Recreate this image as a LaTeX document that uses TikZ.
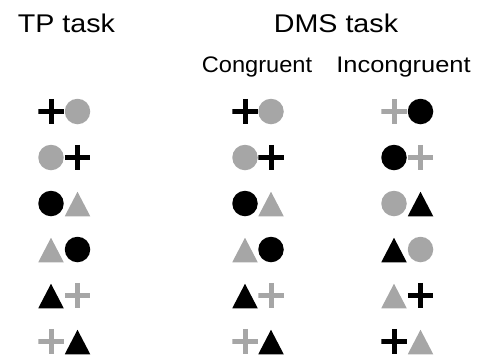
\documentclass[tikz,border=0pt]{standalone}
\usepackage{fontspec}
\setmainfont{Liberation Sans}
\definecolor{sg}{RGB}{166,166,166}
\begin{document}
\begin{tikzpicture}[x=1pt,y=-1pt,
  sym/.style={minimum width=25.5pt, minimum height=25.5pt, inner sep=0pt, outer sep=0pt},
  plusmark/.style={sym, path picture={\draw[line width=5pt,#1]
      (path picture bounding box.north) -- (path picture bounding box.south)
      (path picture bounding box.west) -- (path picture bounding box.east);}},
  circmark/.style={circle, fill=#1, minimum size=25.5pt, inner sep=0pt, outer sep=0pt},
  trimark/.style={sym, path picture={\fill[#1]
      (path picture bounding box.south west) -- (path picture bounding box.south east)
      -- ([yshift=-1pt]path picture bounding box.north) -- cycle;}},
  head/.style={anchor=base, inner sep=0pt, font=\fontsize{25.6}{30}\selectfont},
  sub/.style={anchor=base, inner sep=0pt, font=\fontsize{22.5}{27}\selectfont}
]
\useasboundingbox (0,0) rectangle (485,360);
% headings
\node[head] (tp) at (66.5,32) {\scalebox{1.12}[1]{TP task}};
\node[head] (dms) at (336,32) {\scalebox{1.12}[1]{DMS task}};
\node[sub] (cong) at (257,72) {\scalebox{1.05}[1]{Congruent}};
\node[sub] (incong) at (403.5,72) {\scalebox{1.13}[1]{Incongruent}};
% TP task
\node[plusmark=black] (t1a) at (51,111.5) {};
\node[circmark=sg]    (t1b) at (77.5,111.5) {};
\node[circmark=sg]    (t2a) at (51,157.5) {};
\node[plusmark=black] (t2b) at (77.5,157.5) {};
\node[circmark=black] (t3a) at (51,203.5) {};
\node[trimark=sg]     (t3b) at (77.5,203.5) {};
\node[trimark=sg]     (t4a) at (51,249.5) {};
\node[circmark=black] (t4b) at (77.5,249.5) {};
\node[trimark=black]  (t5a) at (51,295.5) {};
\node[plusmark=sg]    (t5b) at (77.5,295.5) {};
\node[plusmark=sg]    (t6a) at (51,341.5) {};
\node[trimark=black]  (t6b) at (77.5,341.5) {};
% DMS congruent
\node[plusmark=black] (c1a) at (245,111.5) {};
\node[circmark=sg]    (c1b) at (271,111.5) {};
\node[circmark=sg]    (c2a) at (245,157.5) {};
\node[plusmark=black] (c2b) at (271,157.5) {};
\node[circmark=black] (c3a) at (245,203.5) {};
\node[trimark=sg]     (c3b) at (271,203.5) {};
\node[trimark=sg]     (c4a) at (245,249.5) {};
\node[circmark=black] (c4b) at (271,249.5) {};
\node[trimark=black]  (c5a) at (245,295.5) {};
\node[plusmark=sg]    (c5b) at (271,295.5) {};
\node[plusmark=sg]    (c6a) at (245,341.5) {};
\node[trimark=black]  (c6b) at (271,341.5) {};
% DMS incongruent
\node[plusmark=sg]    (i1a) at (394,111.5) {};
\node[circmark=black] (i1b) at (420.5,111.5) {};
\node[circmark=black] (i2a) at (394,157.5) {};
\node[plusmark=sg]    (i2b) at (420.5,157.5) {};
\node[circmark=sg]    (i3a) at (394,203.5) {};
\node[trimark=black]  (i3b) at (420.5,203.5) {};
\node[trimark=black]  (i4a) at (394,249.5) {};
\node[circmark=sg]    (i4b) at (420.5,249.5) {};
\node[trimark=sg]     (i5a) at (394,295.5) {};
\node[plusmark=black] (i5b) at (420.5,295.5) {};
\node[plusmark=black] (i6a) at (394,341.5) {};
\node[trimark=sg]     (i6b) at (420.5,341.5) {};
\end{tikzpicture}
\end{document}
